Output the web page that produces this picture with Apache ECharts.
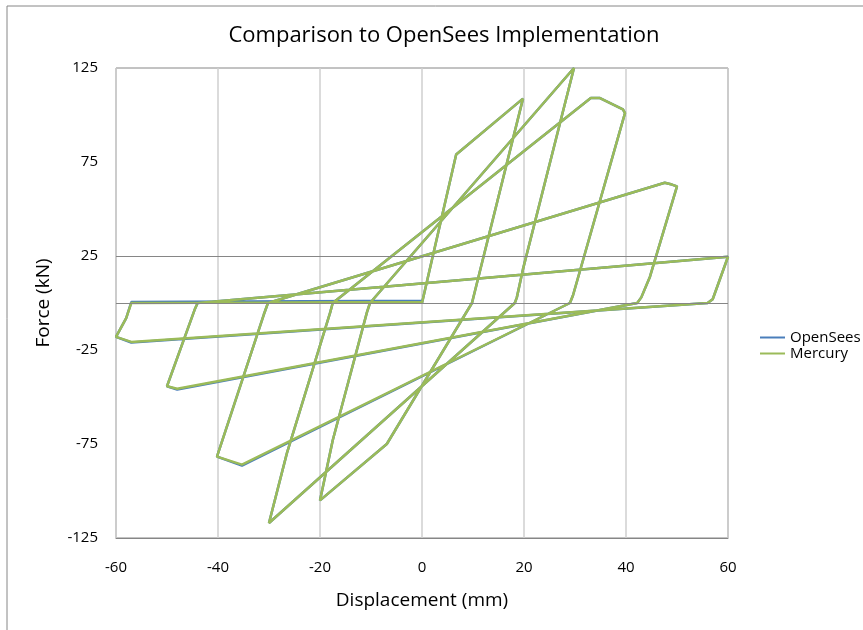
<!DOCTYPE html>
<html>
<head>
<meta charset="utf-8">
<script src="https://cdn.jsdelivr.net/npm/echarts@6/dist/echarts.min.js"></script>
<style>
  html, body { margin: 0; padding: 0; background: #fff; }
  #chart { width: 863px; height: 630px; }
</style>
</head>
<body>
<div id="chart"></div>
<script>
// displacement (mm) / force (kN), in loading order
const mercuryDisp = [0, 6.7, 19.8, 10.9, 9.8, -6.9, -20, -17.5, -10.8, -10.2, 29.8, 19.8, 18.6, 18.2, -30,
  -26.5, -18, -17.5, 33.1, 34.9, 39.4, 39.8, 29.6, 29, -35.3, -40.2, -31, -30.2, 47.6, 49, 50, 44.7, 43, 42.2,
  -48, -50, -44.5, -44, 60, 57, 56, -57, -60, -58, -57, 0];
const mercuryForce = [0, 79, 108.7, 12, 0, -75, -105, -73, -5, 0, 125, 18, 3, 0, -117,
  -80, -5, 0, 109, 109, 103, 101, 4, 0, -86, -81.7, -6, 0, 64, 63, 62, 14, 3, 0,
  -45.6, -44.3, -3, 0, 24.6, 2, 0, -20.7, -18, -8, 0, 0.5];

const openSeesDisp = [0, 6.7, 19.8, 10.9, 9.8, -6.9, -20, -17.5, -10.8, -10.2, 29.8, 19.8, 18.6, 18.2, -30,
  -26.5, -18, -17.5, 33.1, 34.9, 39.4, 39.8, 29.6, 29, -35.3, -40.2, -31, -30.2, 47.6, 49, 50, 44.7, 43, 42.2,
  -48, -50, -44.5, -44, 60, 57, 56, -57, -60, -58, -57, 0];
const openSeesForce = [0, 79, 108.7, 12, 0, -75, -105, -73, -5, 0, 125, 18, 3, 0, -117,
  -80, -5, 0, 109, 109, 103, 101, 4, 0, -86.5, -81.7, -6, 0, 64, 63, 62, 14, 3, 0,
  -46, -44.3, -3, 0, 24.6, 2, 0, -21, -18, -8, 0.5, 1.2];

const yTickValues = [-125, -75, -25, 25, 75, 125];
const refLines = [0, 25];

const pairs = (xs, ys) => xs.map((x, i) => [x, ys[i]]);
const font = 'Open Sans';

const chart = echarts.init(document.getElementById('chart'));
chart.setOption({
  animation: false,
  textStyle: { fontFamily: font },
  title: {
    text: 'Comparison to OpenSees Implementation',
    left: 439, top: 20, textAlign: 'center',
    textStyle: { fontSize: 22, fontWeight: 'normal', color: '#000', fontFamily: font }
  },
  graphic: [{
    type: 'rect', silent: true,
    shape: { x: 7, y: 6, width: 900, height: 700 },
    style: { fill: 'none', stroke: '#868686', lineWidth: 1 }
  }],
  legend: {
    orient: 'vertical', left: 755, top: 325,
    icon: 'rect', itemWidth: 25, itemHeight: 2, itemGap: 1,
    textStyle: { fontSize: 15, color: '#000', fontFamily: font },
    data: ['OpenSees', 'Mercury']
  },
  grid: {
    left: 116, top: 68, right: 135, bottom: 92,
    show: true, borderColor: '#868686', borderWidth: 1
  },
  xAxis: {
    type: 'value', min: -60, max: 60, interval: 20,
    name: 'Displacement (mm)', nameLocation: 'middle', nameGap: 53,
    nameTextStyle: { fontSize: 19, color: '#000', fontFamily: font },
    axisLine: { show: true, onZero: false, lineStyle: { color: '#868686' } },
    axisTick: { show: false },
    axisLabel: { margin: 22, fontSize: 15, color: '#000', fontFamily: font },
    splitLine: { show: true, lineStyle: { color: '#cfcfcf', width: 1.5 } }
  },
  yAxis: {
    type: 'value', min: -125, max: 125, interval: 25,
    name: 'Force (kN)', nameLocation: 'middle', nameGap: 63,
    nameTextStyle: { fontSize: 19, color: '#000', fontFamily: font },
    axisLine: { show: false },
    axisTick: { show: false },
    axisLabel: {
      margin: 18, fontSize: 15, color: '#000', fontFamily: font,
      customValues: yTickValues
    },
    splitLine: { show: false }
  },
  series: [{
    name: 'OpenSees', type: 'line', symbol: 'none', z: 2,
    color: '#4A7EBB',
    lineStyle: { width: 2.5, color: '#4A7EBB' },
    data: pairs(openSeesDisp, openSeesForce),
    markLine: {
      silent: true, symbol: 'none', label: { show: false },
      lineStyle: { color: '#868686', width: 1, type: 'solid' },
      data: refLines.map(v => ({ yAxis: v }))
    }
  }, {
    name: 'Mercury', type: 'line', symbol: 'none', z: 3,
    color: '#9BBB59',
    lineStyle: { width: 2.5, color: '#9BBB59' },
    data: pairs(mercuryDisp, mercuryForce)
  }]
});
</script>
</body>
</html>
